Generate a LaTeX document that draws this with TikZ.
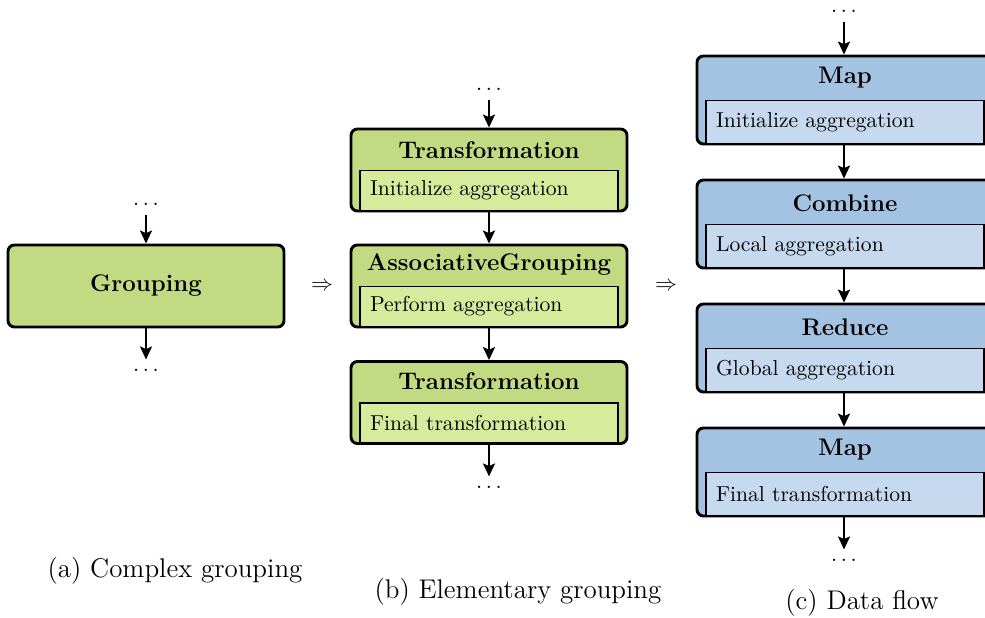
\documentclass[tikz,border=0pt]{standalone}
\usetikzlibrary{arrows.meta}
\definecolor{gout}{HTML}{C2DA81}
\definecolor{ginn}{HTML}{D6EC9C}
\definecolor{bout}{HTML}{A4C2E1}
\definecolor{binn}{HTML}{C6D9EE}
\begin{document}
\begin{tikzpicture}[x=0.5pt,y=-0.5pt,
  boxfont/.style={font=\fontsize{10.8}{12}\selectfont},
  titlefont/.style={font=\fontsize{12}{14}\selectfont\bfseries},
  outerbox/.style={draw=black, line width=1.45pt, rounded corners=3.2pt, inner sep=0pt},
  gbox/.style={outerbox, fill=gout, minimum width=138pt, minimum height=41pt},
  bbox/.style={outerbox, fill=bout, minimum width=148pt, minimum height=44pt},
  innerbox/.style={draw=black, line width=0.65pt, anchor=south, inner sep=0pt,
    inner xsep=5pt, align=left, boxfont},
  ginner/.style={innerbox, fill=ginn, minimum height=20pt, text width=119pt, yshift=0.7pt},
  binner/.style={innerbox, fill=binn, minimum height=21.4pt, text width=129pt, yshift=0.7pt},
  ttl/.style={titlefont, inner sep=0pt},
  ellip/.style={inner sep=4.5pt, boxfont},
  flow/.style={line width=1.1pt, -{Stealth[length=6.5pt, width=6pt, inset=1.3pt]}},
  captxt/.style={font=\fontsize{13.5}{16}\selectfont, inner sep=0pt}
]
\useasboundingbox (0,0) rectangle (985,617);

% (a) complex grouping
\node[ellip] (a0) at (146,204) {$\ldots$};
\node[gbox, titlefont] (a1) at (146,286) {Grouping};
\node[ellip] (a2) at (146,370) {$\ldots$};
\draw[flow] (a0) -- (a1);
\draw[flow] (a1) -- (a2);
\node[captxt] (capa) at (175,571) {(a) Complex grouping};

\node[boxfont] (imp1) at (322,286) {$\Rightarrow$};

% (b) elementary grouping
\node[ellip] (b0) at (489,89) {$\ldots$};
\node[gbox] (b1) at (489,170) {};
\node[ttl] (b1t) at ([yshift=-11.5pt]b1.north) {Transformation};
\node[ginner] (b1i) at (b1.south) {Initialize aggregation};
\node[gbox] (b2) at (489,286) {};
\node[ttl] (b2t) at ([yshift=-10.5pt]b2.north) {AssociativeGrouping};
\node[ginner] (b2i) at (b2.south) {Perform aggregation};
\node[gbox] (b3) at (489,402.5) {};
\node[ttl] (b3t) at ([yshift=-10.5pt]b3.north) {Transformation};
\node[ginner] (b3i) at (b3.south) {Final transformation};
\node[ellip] (b4) at (489,487) {$\ldots$};
\draw[flow] (b0) -- (b1);
\draw[flow] (b1) -- (b2);
\draw[flow] (b2) -- (b3);
\draw[flow] (b3) -- (b4);
\node[captxt] (capb) at (518,592) {(b) Elementary grouping};

\node[boxfont] (imp2) at (666,286) {$\Rightarrow$};

% (c) data flow
\node[ellip] (c0) at (844,11) {$\ldots$};
\node[bbox] (c1) at (845,100) {};
\node[ttl] (c1t) at ([yshift=-11.5pt]c1.north) {Map};
\node[binner] (c1i) at (c1.south) {Initialize aggregation};
\node[bbox] (c2) at (845,224) {};
\node[ttl] (c2t) at ([yshift=-12.5pt]c2.north) {Combine};
\node[binner] (c2i) at (c2.south) {Local aggregation};
\node[bbox] (c3) at (845,348) {};
\node[ttl] (c3t) at ([yshift=-12.5pt]c3.north) {Reduce};
\node[binner] (c3i) at (c3.south) {Global aggregation};
\node[bbox] (c4) at (845,472) {};
\node[ttl] (c4t) at ([yshift=-11.5pt]c4.north) {Map};
\node[binner] (c4i) at (c4.south) {Final transformation};
\node[ellip] (c5) at (844,560) {$\ldots$};
\draw[flow] (c0) -- (c0 |- c1.north);
\draw[flow] (c1.south -| c0) -- (c0 |- c2.north);
\draw[flow] (c2.south -| c0) -- (c0 |- c3.north);
\draw[flow] (c3.south -| c0) -- (c0 |- c4.north);
\draw[flow] (c4.south -| c0) -- (c5);
\node[captxt] (capc) at (862,603) {(c) Data flow};
\end{tikzpicture}
\end{document}
